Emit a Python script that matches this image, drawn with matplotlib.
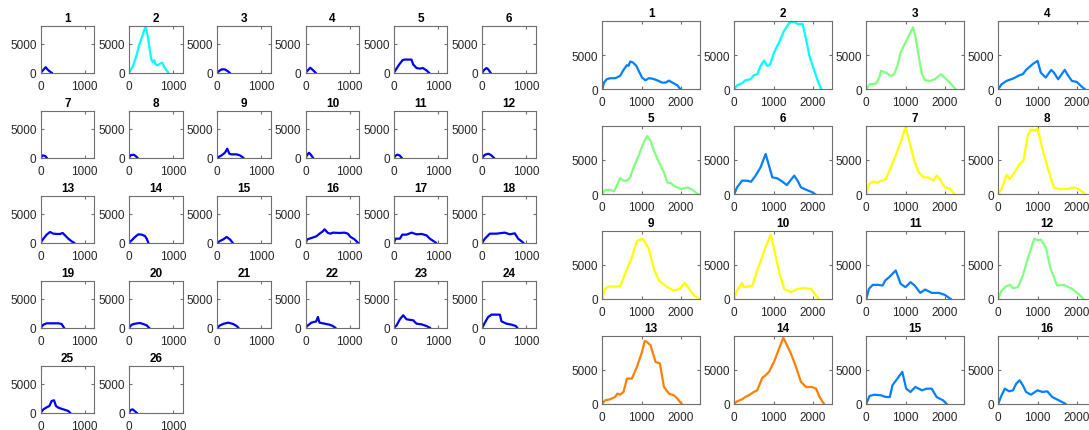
import matplotlib
matplotlib.use("Agg")
import matplotlib.pyplot as plt

plt.rcParams['font.family'] = ['Liberation Sans', 'DejaVu Sans']

# ---------------- left panel: 26 series ----------------
left_titles = [str(i) for i in range(1, 27)]
l1_x = [0, 50, 114, 150, 200, 250];            l1_y = [0, 400, 950, 600, 250, 0]
l2_x = [0, 91, 167, 227, 280, 318, 379, 432, 470, 508, 538, 576, 606, 652, 705, 758, 803, 894]
l2_y = [0, 1150, 2875, 4600, 5750, 6600, 8050, 6040, 4025, 2300, 1840, 2130, 1380, 1265, 1550, 1725, 980, 0]
l3_x = [0, 50, 100, 170, 230, 280];            l3_y = [0, 350, 575, 575, 300, 0]
l4_x = [0, 50, 106, 160, 227];                 l4_y = [0, 400, 850, 500, 0]
l5_x = [0, 60, 120, 197, 250, 400, 440, 515, 590, 660, 740, 800]
l5_y = [0, 700, 1400, 2150, 2250, 2250, 1400, 800, 700, 800, 400, 0]
l6_x = [0, 40, 98, 140, 190];                  l6_y = [0, 450, 800, 550, 0]
l7_x = [0, 45, 100, 136];                      l7_y = [0, 400, 300, 0]
l8_x = [0, 40, 110, 150, 190];                 l8_y = [0, 450, 500, 300, 0]
l9_x = [0, 98, 174, 227, 273, 326, 440, 515, 590]
l9_y = [0, 400, 860, 1550, 690, 575, 575, 400, 0]
l10_x = [0, 40, 76, 110, 167];                 l10_y = [0, 500, 850, 600, 0]
l11_x = [0, 40, 76, 130, 175];                 l11_y = [0, 350, 520, 400, 0]
l12_x = [0, 60, 140, 200, 265];                l12_y = [0, 500, 680, 450, 0]
l13_x = [0, 61, 136, 212, 288, 364, 439, 500, 553, 629, 705, 758]
l13_y = [0, 690, 1380, 1840, 1550, 1500, 1500, 1670, 1265, 690, 230, 0]
l14_x = [0, 61, 136, 212, 288, 364, 402, 440]
l14_y = [0, 400, 980, 1440, 1380, 1150, 690, 0]
l15_x = [0, 61, 136, 212, 288, 348];           l15_y = [0, 290, 575, 980, 575, 0]
l16_x = [0, 38, 129, 242, 318, 394, 432, 508, 568, 621, 773, 886, 962, 1023, 1114, 1190]
l16_y = [0, 575, 800, 1090, 1550, 1960, 2300, 1670, 1550, 1725, 1670, 1725, 1550, 980, 575, 0]
l17_x = [0, 38, 136, 190, 288, 402, 515, 629, 742, 818, 955]
l17_y = [0, 690, 690, 1380, 1380, 1725, 1440, 1500, 1265, 690, 0]
l18_x = [0, 61, 174, 326, 515, 629, 742, 818, 917, 932]
l18_y = [0, 690, 1550, 1550, 1725, 1440, 1610, 690, 115, 0]
l19_x = [0, 61, 136, 402, 477, 530];           l19_y = [0, 520, 750, 750, 630, 0]
l20_x = [0, 61, 136, 250, 326, 402, 455];      l20_y = [0, 520, 690, 800, 630, 400, 0]
l21_x = [0, 61, 152, 250, 364, 440, 477];      l21_y = [0, 400, 690, 860, 630, 290, 0]
l22_x = [0, 53, 129, 242, 280, 318, 432, 545, 621, 674]
l22_y = [0, 400, 860, 1090, 1840, 860, 690, 520, 290, 0]
l23_x = [0, 61, 136, 212, 288, 440, 515, 629, 742, 818]
l23_y = [0, 400, 1440, 2130, 1440, 1265, 690, 575, 290, 0]
l24_x = [0, 61, 136, 212, 402, 439, 553, 667, 765, 795]
l24_y = [0, 860, 1840, 2240, 2240, 1090, 690, 520, 290, 0]
l25_x = [0, 61, 136, 197, 250, 303, 348, 402, 515, 629, 667]
l25_y = [0, 575, 920, 1150, 2010, 2130, 1150, 860, 575, 290, 0]
l26_x = [0, 38, 83, 136, 174];                 l26_y = [0, 460, 575, 230, 0]

left_series = [(l1_x, l1_y), (l2_x, l2_y), (l3_x, l3_y), (l4_x, l4_y), (l5_x, l5_y),
               (l6_x, l6_y), (l7_x, l7_y), (l8_x, l8_y), (l9_x, l9_y), (l10_x, l10_y),
               (l11_x, l11_y), (l12_x, l12_y), (l13_x, l13_y), (l14_x, l14_y), (l15_x, l15_y),
               (l16_x, l16_y), (l17_x, l17_y), (l18_x, l18_y), (l19_x, l19_y), (l20_x, l20_y),
               (l21_x, l21_y), (l22_x, l22_y), (l23_x, l23_y), (l24_x, l24_y), (l25_x, l25_y),
               (l26_x, l26_y)]
left_colors = ['#0000ff', '#00ffff'] + ['#0000ff'] * 24
left_xticks = [0, 1000]
left_yticks = [0, 5000]

# ---------------- right panel: 16 series ----------------
right_titles = [str(i) for i in range(1, 17)]
r1_x = [0, 43, 112, 197, 326, 455, 541, 627, 670, 712, 781, 867, 927, 1013, 1099, 1185, 1270, 1399, 1528, 1614, 1700, 1785, 1914, 1990]
r1_y = [0, 980, 1470, 1620, 1620, 1960, 2840, 3530, 3430, 4070, 3920, 3430, 2700, 1715, 1320, 1620, 1570, 1320, 980, 980, 1270, 980, 590, 0]
r2_x = [0, 69, 197, 283, 412, 498, 584, 670, 756, 841, 910, 1013, 1142, 1270, 1399, 1460, 1528, 1614, 1742, 1828, 1914, 2026, 2129, 2215]
r2_y = [0, 590, 880, 1320, 1470, 2060, 2210, 3430, 4210, 3430, 3580, 5390, 6860, 8580, 9700, 9900, 9850, 9560, 9560, 7350, 4900, 2940, 1225, 0]
r3_x = [0, 83, 250, 333, 375, 500, 625, 708, 792, 875, 958, 1042, 1192, 1250, 1333, 1417, 1500, 1625, 1750, 1900, 2042, 2167, 2275]
r3_y = [0, 735, 830, 1715, 2700, 2450, 1960, 2200, 3430, 5390, 6370, 7350, 9070, 7840, 4900, 2200, 1320, 1225, 1470, 2200, 1470, 735, 0]
r4_x = [0, 83, 208, 375, 542, 625, 708, 875, 1000, 1083, 1208, 1350, 1417, 1525, 1692, 1775, 1875, 2000, 2125, 2208]
r4_y = [0, 735, 1225, 1570, 2060, 2200, 2840, 3680, 4165, 2450, 1715, 2840, 2450, 1470, 2840, 2060, 1225, 1080, 390, 0]
r5_x = [0, 69, 197, 300, 369, 455, 541, 627, 712, 798, 927, 1056, 1142, 1227, 1313, 1442, 1571, 1657, 1742, 1828, 2000, 2172, 2300, 2429]
r5_y = [0, 590, 640, 390, 1225, 2350, 1960, 1960, 2450, 3920, 5640, 7600, 8480, 7840, 6370, 4660, 3190, 1720, 1620, 1225, 735, 980, 640, 0]
r6_x = [0, 69, 197, 326, 429, 541, 670, 799, 884, 970, 1099, 1228, 1340, 1425, 1528, 1614, 1700, 1828, 1940, 2060]
r6_y = [0, 980, 1960, 1960, 1810, 2700, 3920, 5880, 4165, 2450, 2300, 1810, 1320, 1960, 2700, 1960, 980, 640, 390, 0]
r7_x = [0, 67, 167, 292, 375, 500, 625, 750, 875, 1000, 1083, 1208, 1333, 1458, 1583, 1708, 1792, 1875, 2000, 2125, 2250]
r7_y = [0, 1470, 1810, 1715, 1960, 2200, 3920, 5640, 7600, 9800, 8085, 5145, 3185, 2450, 2450, 1960, 2700, 2200, 980, 830, 0]
r8_x = [0, 83, 208, 292, 417, 542, 642, 750, 833, 917, 1000, 1125, 1292, 1417, 1542, 1750, 1917, 2042, 2167, 2208]
r8_y = [0, 735, 2800, 2200, 3190, 4410, 4900, 8575, 9460, 9310, 9560, 6615, 3185, 980, 735, 735, 980, 735, 245, 0]
r9_x = [0, 69, 155, 326, 455, 584, 755, 884, 1030, 1099, 1185, 1313, 1442, 1657, 1828, 1974, 2103, 2215, 2343, 2472]
r9_y = [0, 1470, 1810, 1810, 1860, 3675, 6125, 8475, 8820, 8180, 7350, 4410, 2700, 1715, 1225, 1470, 2350, 1470, 490, 0]
r10_x = [0, 69, 197, 240, 369, 455, 584, 670, 799, 927, 1013, 1142, 1270, 1442, 1614, 1785, 1957, 2150]
r10_y = [0, 1225, 2350, 1715, 1860, 1860, 4165, 5490, 7600, 9410, 7350, 3920, 1470, 980, 1470, 1570, 1470, 0]
r11_x = [0, 67, 167, 292, 417, 483, 583, 667, 750, 875, 1000, 1125, 1233, 1375, 1500, 1667, 1850, 2000, 2150]
r11_y = [0, 1470, 2060, 2060, 1960, 2700, 3185, 3675, 4165, 2200, 1715, 2450, 1960, 880, 1370, 880, 880, 590, 0]
r12_x = [0, 83, 208, 292, 375, 500, 625, 750, 917, 1000, 1083, 1208, 1333, 1500, 1667, 1875, 2042, 2167]
r12_y = [0, 1225, 1860, 2060, 1570, 1715, 3430, 5880, 8820, 8575, 8675, 7600, 4410, 1960, 2060, 1470, 735, 0]
r13_x = [0, 69, 197, 326, 386, 455, 541, 627, 755, 884, 1013, 1080, 1125, 1227, 1356, 1468, 1571, 1700, 1828, 1914, 2017]
r13_y = [0, 490, 640, 980, 1470, 1320, 1715, 3675, 3675, 5390, 7600, 9150, 9100, 8575, 6125, 5880, 2450, 1470, 1225, 735, 0]
r14_x = [0, 69, 197, 283, 369, 498, 584, 712, 798, 884, 1013, 1142, 1250, 1442, 1571, 1700, 1828, 1974, 2086, 2172, 2283]
r14_y = [0, 345, 640, 980, 1225, 1715, 1960, 3770, 4165, 4655, 6125, 8085, 9650, 7350, 5390, 3185, 2450, 2450, 2200, 980, 0]
r15_x = [0, 83, 208, 375, 500, 600, 667, 792, 917, 1017, 1125, 1250, 1417, 1542, 1667, 1792, 1958, 2042]
r15_y = [0, 1130, 1320, 1225, 980, 980, 2700, 3675, 4655, 2200, 1715, 2450, 1960, 2200, 2200, 980, 490, 0]
r16_x = [0, 83, 167, 275, 375, 458, 542, 625, 708, 833, 1000, 1125, 1250, 1375, 1542, 1708]
r16_y = [0, 1225, 2200, 1810, 1960, 2940, 3430, 2700, 1715, 1320, 1960, 1715, 1810, 980, 490, 0]

right_series = [(r1_x, r1_y), (r2_x, r2_y), (r3_x, r3_y), (r4_x, r4_y), (r5_x, r5_y),
                (r6_x, r6_y), (r7_x, r7_y), (r8_x, r8_y), (r9_x, r9_y), (r10_x, r10_y),
                (r11_x, r11_y), (r12_x, r12_y), (r13_x, r13_y), (r14_x, r14_y),
                (r15_x, r15_y), (r16_x, r16_y)]
BLUE, CYAN, GREEN, YELLOW, ORANGE = '#0080ff', '#00ffff', '#80ff80', '#ffff00', '#ff8000'
right_colors = [BLUE, CYAN, GREEN, BLUE, GREEN, BLUE, YELLOW, YELLOW,
                YELLOW, YELLOW, BLUE, GREEN, ORANGE, ORANGE, BLUE, BLUE]
right_xticks = [0, 1000, 2000]
right_yticks = [0, 5000]

# ---------------- figure ----------------
W, H = 1089, 431
fig = plt.figure(figsize=(W / 100, H / 100), dpi=100)

SPINE = '#6e6e6e'
TXT = '#262626'


def make_ax(left, top, w, h):
    return fig.add_axes([left / W, 1 - (top + h) / H, w / W, h / H])


def style(ax, xlim, ylim, xticks, yticks, title, fs):
    ax.set_xlim(*xlim)
    ax.set_ylim(*ylim)
    ax.set_xticks(xticks)
    ax.set_yticks(yticks)
    ax.set_xticklabels([str(t) for t in xticks])
    ax.set_yticklabels([str(t) for t in yticks])
    ax.tick_params(direction='in', top=True, right=True, length=2.5, width=0.8,
                   colors=SPINE, labelcolor=TXT, labelsize=fs)
    ax.tick_params(axis='x', pad=5)
    ax.tick_params(axis='y', pad=3)
    for s in ax.spines.values():
        s.set_color(SPINE)
        s.set_linewidth(0.8)
    ax.set_title(title, fontsize=fs, fontweight='bold', color='black', pad=3.5)


# left grid 5 x 6
for i, ((xs, ys), col) in enumerate(zip(left_series, left_colors)):
    r, c = divmod(i, 6)
    ax = make_ax(40.7 + 88.3 * c, 26.7 + 85.0 * r, 53.6, 47.0)
    ax.plot(xs, ys, color=col, lw=1.6, solid_joinstyle='round')
    style(ax, (0, 1220), (0, 8060), left_xticks, left_yticks, left_titles[i], 8.5)

# right grid 4 x 4
for i, ((xs, ys), col) in enumerate(zip(right_series, right_colors)):
    r, c = divmod(i, 4)
    ax = make_ax(602.3 + 132.0 * c, 22.3 + 104.8 * r, 97.7, 68.0)
    ax.plot(xs, ys, color=col, lw=1.6, solid_joinstyle='round')
    style(ax, (0, 2490), (0, 9950), right_xticks, right_yticks, right_titles[i], 8.5)

fig.savefig('out.png', dpi=100)
